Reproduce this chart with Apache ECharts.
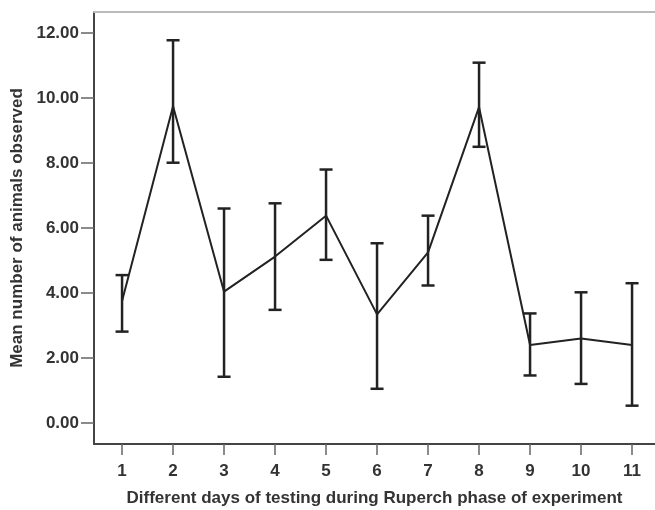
<!DOCTYPE html>
<html>
  <head>
    <meta charset="UTF-8">
    <script src="https://cdn.jsdelivr.net/npm/echarts@6/dist/echarts.min.js"></script>
    <title>Rupert phase</title>
  </head>
  <body style="margin:0;background:#fff;">
    <div id="main" style="width:655px;height:510px;"></div>
  </body>
  <script>
var days = [1, 2, 3, 4, 5, 6, 7, 8, 9, 10, 11];
var means = [3.75, 9.75, 4.04, 5.12, 6.38, 3.34, 5.25, 9.72, 2.4, 2.6, 2.4];
var upper = [4.55, 11.78, 6.6, 6.76, 7.8, 5.53, 6.38, 11.09, 3.37, 4.02, 4.3];
var lower = [2.81, 8.01, 1.42, 3.48, 5.02, 1.05, 4.23, 8.5, 1.46, 1.2, 0.53];
var yTicks = [0, 2, 4, 6, 8, 10, 12];

var chart = echarts.init(document.getElementById('main'));

var axisColor = '#444';
var font = '"Liberation Sans", Arial, sans-serif';
var txt = {fontFamily: font, fontWeight: 'bold', fontSize: 17, color: '#333'};

option = {
    animation: false,
    grid: {
        left: 94,
        top: 12,
        right: 0,
        height: 432,
        outerBoundsMode: 'none',
        containLabel: false,
        show: false
    },
    xAxis: [
        {
            type: 'value',
            min: 0.45,
            max: 11.45,
            name: 'Different days of testing during Ruperch phase of experiment',
            nameLocation: 'middle',
            nameGap: 46,
            nameTextStyle: txt,
            splitLine: {show: false},
            axisLine: {onZero: false, lineStyle: {color: axisColor, width: 2}},
            axisTick: {show: true, length: 11, customValues: days, lineStyle: {color: '#666', width: 1.5}},
            axisLabel: Object.assign({customValues: days, margin: 19}, txt)
        },
        {
            type: 'value',
            position: 'top',
            min: 0.45,
            max: 11.45,
            splitLine: {show: false},
            axisLine: {show: true, onZero: false, lineStyle: {color: '#bbb', width: 2}},
            axisTick: {show: false},
            axisLabel: {show: false}
        }
    ],
    yAxis: {
        type: 'value',
        min: -0.65,
        max: 12.65,
        name: 'Mean number of animals observed',
        nameLocation: 'middle',
        nameGap: 68,
        nameTextStyle: txt,
        splitLine: {show: false},
        axisLine: {show: true, onZero: false, lineStyle: {color: axisColor, width: 2}},
        axisTick: {show: true, length: 13, customValues: yTicks, lineStyle: {color: '#666', width: 1.5}},
        axisLabel: Object.assign({
            customValues: yTicks,
            margin: 15,
            formatter: function (v) { return v.toFixed(2); }
        }, txt)
    },
    series: [
        {
            type: 'line',
            data: days.map(function (d, i) { return [d, means[i]]; }),
            symbol: 'none',
            lineStyle: {color: '#222', width: 2},
            z: 3
        },
        {
            type: 'custom',
            data: days.map(function (d, i) { return [d, lower[i], upper[i]]; }),
            renderItem: function (params, api) {
                var top = api.coord([api.value(0), api.value(2)]);
                var bot = api.coord([api.value(0), api.value(1)]);
                var hw = 6.5;
                var st = {stroke: '#222', lineWidth: 2.5};
                return {
                    type: 'group',
                    children: [
                        {type: 'line', shape: {x1: top[0], y1: top[1], x2: bot[0], y2: bot[1]}, style: st},
                        {type: 'line', shape: {x1: top[0] - hw, y1: top[1], x2: top[0] + hw, y2: top[1]}, style: st},
                        {type: 'line', shape: {x1: bot[0] - hw, y1: bot[1], x2: bot[0] + hw, y2: bot[1]}, style: st}
                    ]
                };
            },
            z: 4
        }
    ]
};

chart.setOption(option);
  </script>
</html>
